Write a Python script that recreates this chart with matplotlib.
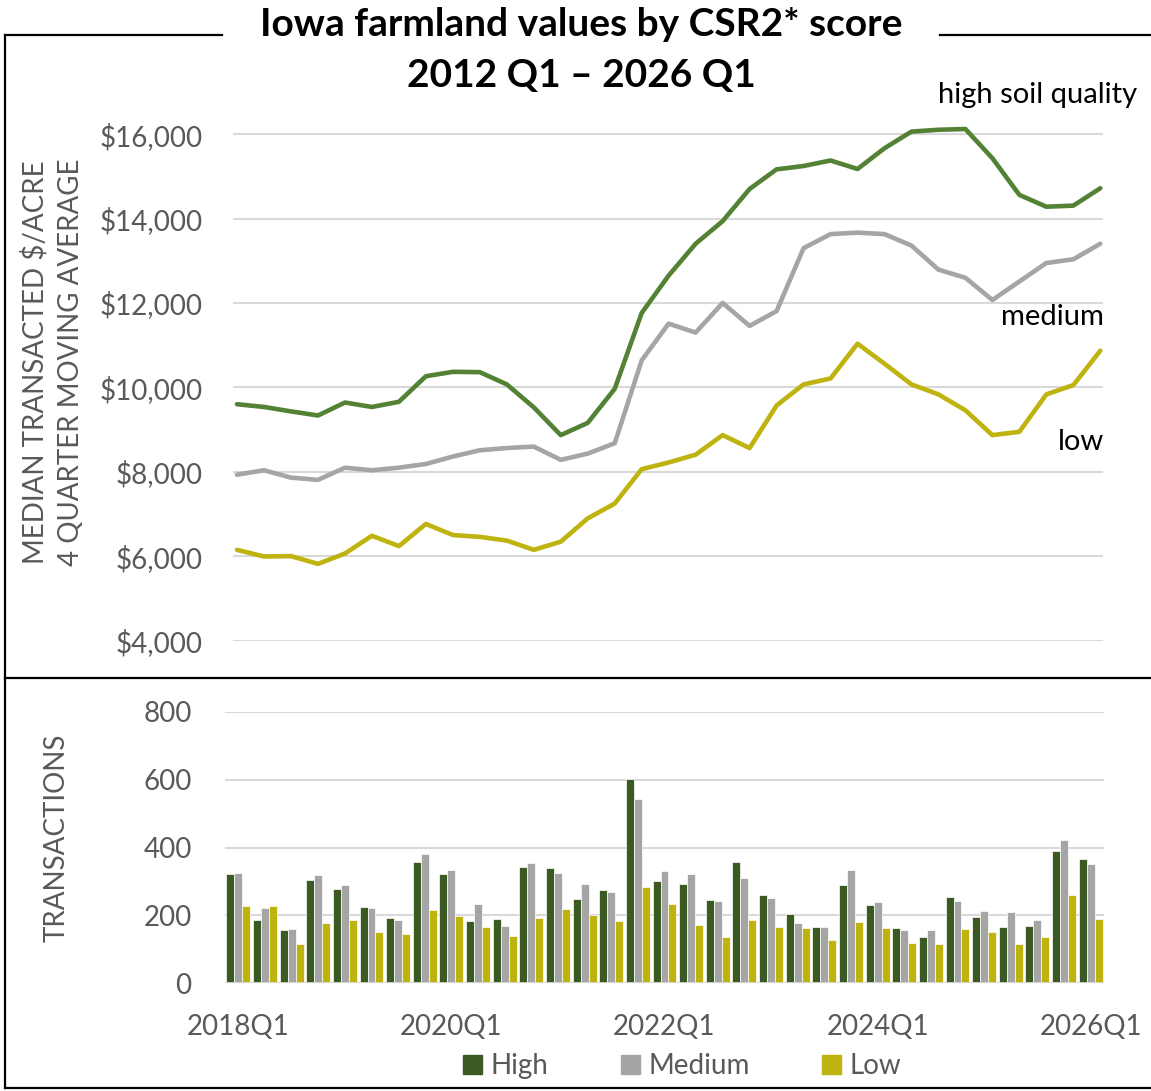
import numpy as np
import matplotlib.pyplot as plt
from matplotlib.lines import Line2D
from matplotlib.patches import Patch

plt.rcParams["font.family"] = ["Lato", "DejaVu Sans"]

quarters = [f"{y}Q{q}" for y in range(2018, 2026) for q in range(1, 5)] + ["2026Q1"]

# median transacted $/acre, 4 quarter moving average
high_price = [9600, 9535, 9430, 9333, 9640, 9535, 9658, 10263, 10368, 10360, 10070,
              9526, 8868, 9158, 9965, 11763, 12650, 13404, 13939, 14702, 15167, 15246,
              15377, 15175, 15667, 16061, 16105, 16123, 15430, 14561, 14281, 14307, 14719]
medium_price = [7930, 8035, 7860, 7807, 8096, 8035, 8096, 8184, 8360, 8509, 8561,
                8596, 8281, 8430, 8675, 10640, 11510, 11298, 12000, 11456, 11807, 13298,
                13632, 13667, 13632, 13360, 12790, 12597, 12070, 12509, 12947, 13035, 13404]
low_price = [6149, 5991, 6000, 5816, 6061, 6482, 6237, 6763, 6500, 6456, 6368,
             6149, 6342, 6895, 7246, 8061, 8220, 8404, 8868, 8561, 9570, 10070,
             10210, 11035, 10561, 10070, 9833, 9456, 8868, 8947, 9833, 10053, 10868]

# number of transactions per quarter
high_n = [322, 186, 155, 305, 278, 224, 191, 356, 322, 183, 189, 343, 339, 247, 274,
          603, 302, 292, 245, 358, 260, 203, 165, 289, 230, 161, 137, 254, 194, 166,
          169, 390, 365]
medium_n = [324, 221, 159, 318, 289, 222, 186, 381, 335, 232, 167, 353, 324, 292, 270,
            542, 332, 322, 242, 311, 251, 176, 164, 333, 238, 155, 156, 242, 213, 211,
            186, 422, 350]
low_n = [228, 228, 116, 178, 185, 152, 144, 216, 199, 164, 138, 192, 219, 202, 182,
         283, 233, 171, 135, 186, 166, 161, 127, 180, 161, 118, 114, 160, 150, 116,
         136, 260, 189]

W, H = 1151, 1091
fig = plt.figure(figsize=(W / 100, H / 100), dpi=100)

green_line = "#548235"
green_bar = "#3B5A23"
gray = "#A5A5A5"
yellow = "#BFB30F"
txt = "#595959"
grid = "#D9D9D9"


def fx(x):
    return x / W


def fy(y):
    return 1 - y / H


x = np.arange(len(quarters))

# ---- top panel: prices
ax = fig.add_axes([fx(233), fy(640.5), fx(1103) - fx(233), fy(92) - fy(640.5)])
ax.plot(x, high_price, color=green_line, lw=3.3, solid_capstyle="round", zorder=3)
ax.plot(x, medium_price, color=gray, lw=3.3, solid_capstyle="round", zorder=3)
ax.plot(x, low_price, color=yellow, lw=3.3, solid_capstyle="round", zorder=3)
ax.set_xlim(-0.15, 32.1)
ax.set_ylim(4000, 17000)
ax.set_yticks(range(4000, 16001, 2000))
ax.set_yticklabels([f"${v:,}" for v in range(4000, 16001, 2000)])
ax.set_xticks([])
ax.grid(axis="y", color=grid, lw=1.5, zorder=1)
for s in ax.spines.values():
    s.set_visible(False)
ax.tick_params(axis="y", length=0, pad=22, labelsize=20, labelcolor=txt)

fig.text(fx(1137), fy(95), "high soil quality", ha="right", va="center", fontsize=21)
fig.text(fx(1104), fy(317), "medium", ha="right", va="center", fontsize=21)
fig.text(fx(1104), fy(442), "low", ha="right", va="center", fontsize=21)

fig.text(fx(35), fy(362), "MEDIAN TRANSACTED $/ACRE", rotation=90, ha="center",
         va="center", fontsize=20, color=txt)
fig.text(fx(71), fy(362), "4 QUARTER MOVING AVERAGE", rotation=90, ha="center",
         va="center", fontsize=20, color=txt)

fig.text(fx(581), fy(24), "Iowa farmland values by CSR2* score", ha="center",
         va="center", fontsize=28, fontweight="bold")
fig.text(fx(581), fy(75), "2012 Q1 \u2013 2026 Q1", ha="center", va="center",
         fontsize=28, fontweight="bold")

# ---- bottom panel: transactions
bx = fig.add_axes([fx(225), fy(983), fx(1104) - fx(225), fy(712) - fy(983)])
bw = 0.3
bx.bar(x - bw, high_n, bw, color=green_bar, edgecolor="white", lw=0.5, zorder=3)
bx.bar(x, medium_n, bw, color=gray, edgecolor="white", lw=0.5, zorder=3)
bx.bar(x + bw, low_n, bw, color=yellow, edgecolor="white", lw=0.5, zorder=3)
bx.set_xlim(-0.5, 32.5)
bx.set_ylim(0, 800)
bx.set_yticks(range(0, 801, 200))
bx.set_xticks(x[::8])
bx.set_xticklabels([quarters[i] for i in x[::8]])
bx.grid(axis="y", color=grid, lw=1.5, zorder=1)
for s in bx.spines.values():
    s.set_visible(False)
bx.axhline(0, color=grid, lw=2, zorder=4)
bx.tick_params(axis="y", length=0, pad=24, labelsize=20, labelcolor=txt)
bx.tick_params(axis="x", length=0, pad=22, labelsize=20, labelcolor=txt)

fig.text(fx(57), fy(838), "TRANSACTIONS", rotation=90, ha="center", va="center",
         fontsize=20, color=txt)

handles = [Patch(color=green_bar), Patch(color=gray), Patch(color=yellow)]
fig.legend(handles, ["High", "Medium", "Low"], loc="center", ncol=3,
           bbox_to_anchor=(fx(682), fy(1066)), frameon=False, fontsize=20,
           handlelength=0.7, handleheight=0.7, handletextpad=0.3, columnspacing=2.6,
           labelcolor=txt)

# ---- frame lines
frame = dict(color="black", lw=1.6, transform=fig.transFigure)
fig.add_artist(Line2D([fx(5), fx(222)], [fy(35), fy(35)], **frame))
fig.add_artist(Line2D([fx(940), fx(1151)], [fy(35), fy(35)], **frame))
fig.add_artist(Line2D([fx(5), fx(5)], [fy(35), fy(1088)], **frame))
fig.add_artist(Line2D([fx(5), fx(1151)], [fy(678), fy(678)], **frame))
fig.add_artist(Line2D([fx(5), fx(1151)], [fy(1088), fy(1088)], **frame))

fig.savefig("out.png", dpi=100)
